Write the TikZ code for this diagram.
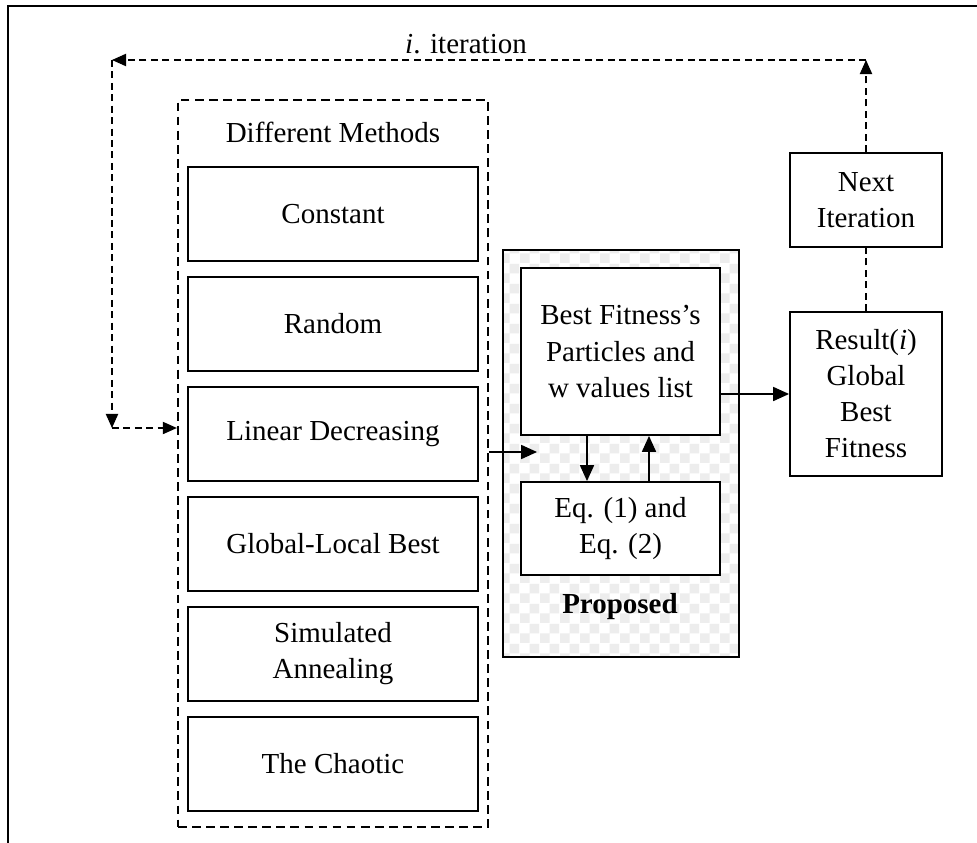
\documentclass[tikz,border=0pt]{standalone}
\usepackage{fontspec}
\setmainfont{Liberation Serif}
\usepackage{tikz}
\usetikzlibrary{positioning,arrows.meta,patterns}

\begin{document}
\begin{tikzpicture}[
    font=\fontsize{16.5}{20.5}\selectfont,
    methodbox/.style={rectangle, draw, line width=1.1pt, fill=white, minimum width=5.8cm, minimum height=1.88cm, align=center},
    flowbox/.style={rectangle, draw, line width=1.1pt, fill=white, align=center, inner sep=2pt},
    groupbox/.style={rectangle, draw, line width=1.3pt, dash pattern=on 5pt off 3pt},
    arrow/.style={-{Triangle[length=9pt,width=8pt]}, line width=0.7pt},
    dasharrow/.style={-{Triangle[length=8pt,width=7pt]}, line width=0.6pt, dash pattern=on 4pt off 2.5pt}
]
\useasboundingbox (0,0) rectangle (19.54,-16.86);
% frame
\draw[line width=1pt] (0.16,-16.9) -- (0.16,-0.12) -- (19.6,-0.12);

% different methods
\node[groupbox, minimum width=6.2cm, minimum height=14.54cm] (methods) at (6.66,-9.27) {};
\node (methodstitle) at (6.66,-2.64) {Different Methods};
\node[methodbox] (constant) at (6.66,-4.28) {Constant};
\node[methodbox, below=0.28cm of constant] (random) {Random};
\node[methodbox, below=0.28cm of random] (linear) {Linear Decreasing};
\node[methodbox, below=0.28cm of linear] (globallocal) {Global-Local Best};
\node[methodbox, below=0.28cm of globallocal] (annealing) {Simulated\\Annealing};
\node[methodbox, below=0.28cm of annealing] (chaotic) {The Chaotic};

% proposed
\node[draw, line width=1.1pt, preaction={fill=white}, pattern=checkerboard, pattern color=gray!14,
      minimum width=4.72cm, minimum height=8.14cm] (proposed) at (12.42,-9.07) {};
\node[flowbox, minimum width=3.98cm, minimum height=3.34cm] (best) at (12.41,-7.03) {Best Fitness's\\Particles and\\w values list};
\node[flowbox, minimum width=3.98cm, minimum height=1.86cm] (eq) at (12.41,-10.57) {Eq. (1) and\\Eq. (2)};
\node[font=\fontsize{16.5}{20.5}\selectfont\bfseries] (proposedlabel) at (12.4,-12.14) {Proposed};

% result and next iteration
\node[flowbox, minimum width=3.04cm, minimum height=3.28cm] (result) at (17.32,-7.88) {Result(\textit{i})\\Global\\Best\\Fitness};
\node[flowbox, minimum width=3.04cm, minimum height=1.88cm] (next) at (17.32,-4.0) {Next\\Iteration};

\coordinate (inP) at (10.74,-9.04);
\coordinate (cornerR) at (17.32,-1.2);
\coordinate (cornerL) at (2.24,-1.2);
\coordinate (cornerB) at (2.24,-8.56);

\draw[arrow] (methods.east |- inP) -- (inP);
\draw[arrow] ([xshift=-0.67cm]best.south) -- ([xshift=-0.67cm]eq.north);
\draw[arrow] ([xshift=0.57cm]eq.north) -- ([xshift=0.57cm]best.south);
\draw[arrow] (best.east |- result.west) -- (result.west);
\draw[line width=0.6pt, dash pattern=on 4pt off 2.5pt] (result.north) -- (next.south);

% iteration loop
\draw[dasharrow] (next.north) -- (cornerR);
\draw[dasharrow] (cornerR) -- (cornerL);
\node (iterlabel) at (9.32,-0.88) {\textit{i}. iteration};
\draw[dasharrow] (cornerL) -- (cornerB);
\draw[dasharrow] (cornerB) -- (methods.west |- cornerB);
\end{tikzpicture}
\end{document}
